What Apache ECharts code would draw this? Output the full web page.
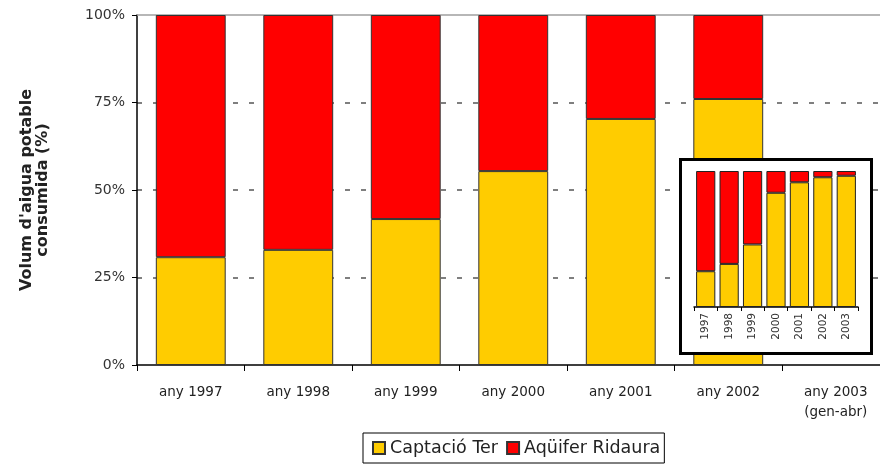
<!DOCTYPE html>
<html>
<head>
<meta charset="utf-8">
<script src="https://cdn.jsdelivr.net/npm/echarts@6/dist/echarts.min.js"></script>
<style>
html,body{margin:0;padding:0;background:#fff;overflow:hidden;width:880px;height:465px;}
#chart{width:890px;height:465px;}
</style>
</head>
<body>
<div id="chart"></div>
<script>
// Main chart data
var categories = ['any 1997','any 1998','any 1999','any 2000','any 2001','any 2002','any 2003\n(gen-abr)'];
var captacioTer = [30.8, 32.9, 41.7, 55.4, 70.3, 76.0, null];
var aquiferRidaura = [69.2, 67.1, 58.3, 44.6, 29.7, 24.0, null];
var yTicks = [0, 25, 50, 75, 100];

// Inset data
var insetCategories = ['1997','1998','1999','2000','2001','2002','2003'];
var insetTer = [26.3, 31.7, 46.0, 84.0, 91.7, 95.4, 96.5];
var insetRidaura = [73.7, 68.3, 54.0, 16.0, 8.3, 4.6, 3.5];

var YELLOW = '#FFCC00', RED = '#FF0000';
var FONT = 'DejaVu Sans';

var chart = echarts.init(document.getElementById('chart'), null, {renderer:'canvas'});
var option = {
  animation: false,
  backgroundColor: '#ffffff',
  textStyle: {fontFamily: FONT},
  grid: [
    {left: 137, top: 15, width: 752.5, height: 350},
    {left: 694, top: 171, width: 164, height: 136}
  ],
  legend: {
    data: ['Captació Ter', 'Aqüifer Ridaura'],
    left: 363, top: 433,
    padding: [6, 4, 6, 9],
    itemGap: 8,
    itemWidth: 12, itemHeight: 12,
    icon: 'rect',
    borderColor: '#000', borderWidth: 1,
    backgroundColor: '#fff',
    textStyle: {fontFamily: FONT, fontSize: 17.5, color: '#222'}
  },
  graphic: [{
    type: 'rect', z: 10,
    shape: {x: 680.5, y: 159.5, width: 191, height: 194},
    style: {fill: '#fff', stroke: '#000', lineWidth: 3}
  }],
  xAxis: [
    {
      type: 'category', gridIndex: 0, data: categories,
      axisLine: {lineStyle: {color: '#000', width: 1.5}},
      axisTick: {show: true, interval: 0, length: 6, lineStyle: {color: '#000'}},
      axisLabel: {interval: 0, margin: 17, fontFamily: FONT, fontSize: 13.5, color: '#222', lineHeight: 20}
    },
    {
      type: 'category', gridIndex: 1, data: insetCategories, z: 20,
      axisLine: {lineStyle: {color: '#000', width: 1.5}},
      axisTick: {show: true, interval: 0, length: 4, lineStyle: {color: '#000'}},
      axisLabel: {interval: 0, rotate: 90, margin: 6, fontFamily: FONT, fontSize: 10.5, color: '#333'}
    },
    {
      type: 'category', gridIndex: 0, data: categories, position: 'top',
      axisLine: {show: true, lineStyle: {color: '#a0a0a0', width: 1.5}},
      axisTick: {show: false}, axisLabel: {show: false}
    }
  ],
  yAxis: [
    {
      type: 'value', gridIndex: 0, min: 0, max: 100, interval: 25,
      name: "Volum d'aigua potable\nconsumida (%)",
      nameLocation: 'middle', nameGap: 86,
      nameTextStyle: {fontFamily: FONT, fontWeight: 'bold', fontSize: 16, lineHeight: 16, color: '#222'},
      axisLine: {show: true, lineStyle: {color: '#000', width: 1.5}},
      axisTick: {show: true, length: 5, lineStyle: {color: '#000'}},
      axisLabel: {margin: 12, fontFamily: FONT, fontSize: 14, color: '#333',
        formatter: function(v){ return yTicks.indexOf(v) >= 0 ? v + '%' : ''; }},
      splitLine: {show: true, showMinLine: false, showMaxLine: false,
        lineStyle: {color: '#555', width: 1.5, type: [5, 11]}}
    },
    {
      type: 'value', gridIndex: 1, min: 0, max: 100, show: false
    }
  ],
  series: [
    {
      name: 'Captació Ter', type: 'bar', stack: 'main', xAxisIndex: 0, yAxisIndex: 0,
      data: captacioTer, barCategoryGap: '35%',
      itemStyle: {color: YELLOW, borderColor: '#333', borderWidth: 1}
    },
    {
      name: 'Aqüifer Ridaura', type: 'bar', stack: 'main', xAxisIndex: 0, yAxisIndex: 0,
      data: aquiferRidaura, barCategoryGap: '35%',
      itemStyle: {color: RED, borderColor: '#333', borderWidth: 1}
    },
    {
      name: 'Captació Ter', type: 'bar', stack: 'inset', xAxisIndex: 1, yAxisIndex: 1, z: 20,
      data: insetTer, barCategoryGap: '18%',
      itemStyle: {color: YELLOW, borderColor: '#222', borderWidth: 1}
    },
    {
      name: 'Aqüifer Ridaura', type: 'bar', stack: 'inset', xAxisIndex: 1, yAxisIndex: 1, z: 20,
      data: insetRidaura, barCategoryGap: '18%',
      itemStyle: {color: RED, borderColor: '#222', borderWidth: 1}
    }
  ]
};
chart.setOption(option);
</script>
</body>
</html>
